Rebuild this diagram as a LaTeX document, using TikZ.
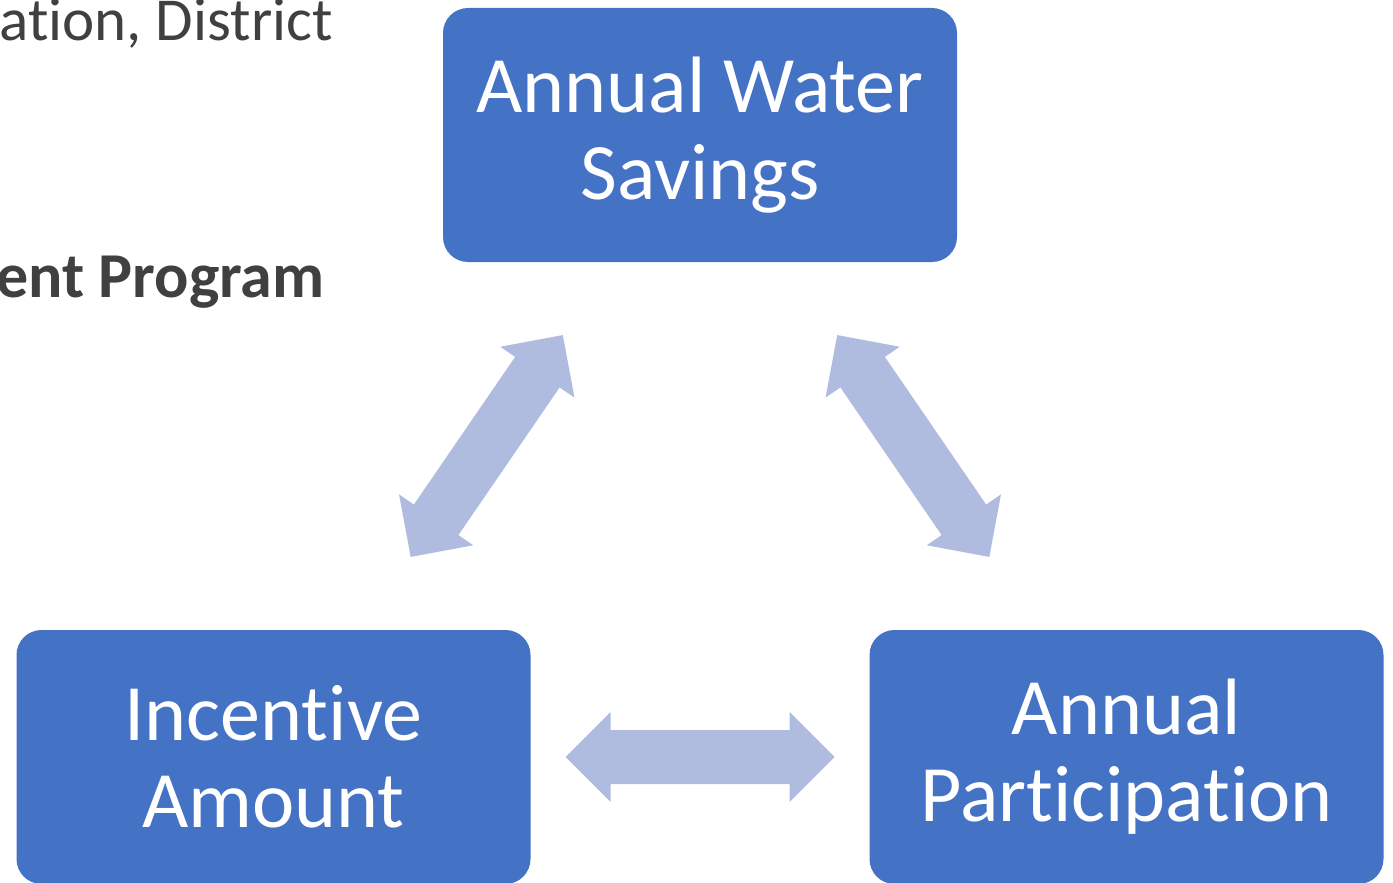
\documentclass[tikz,border=0pt]{standalone}
\usepackage{fontspec}
\setmainfont[Ligatures=NoCommon]{Carlito}
\usetikzlibrary{calc}
\definecolor{boxblue}{HTML}{4472C4}
\definecolor{arrowblue}{HTML}{AFBCDF}
\definecolor{headgray}{HTML}{404040}
\tikzset{
  box/.style={fill=boxblue, rounded corners=12.5pt, minimum width=257pt, minimum height=127pt,
    text=white, align=center, inner sep=0pt, font=\fontsize{40}{43.5}\selectfont},
  heading/.style={text=headgray, anchor=base east, inner sep=0pt, font=\fontsize{30.5}{36}\selectfont},
  pics/dblarrow/.style={code={
    \fill[arrowblue] (-134.5,0) -- (-89.5,-45) -- (-89.5,-27) -- (89.5,-27) -- (89.5,-45) -- (134.5,0)
      -- (89.5,45) -- (89.5,27) -- (-89.5,27) -- (-89.5,45) -- cycle;
  }}
}

\begin{document}
\begin{tikzpicture}[x=0.5pt,y=-0.5pt]
\useasboundingbox (0,0) rectangle (1393,883);

% heading (cut off at the left)
\node[heading] (district) at (333,41) {ation, District};
\node[heading, font=\fontsize{32}{36}\selectfont\bfseries] (program) at (325,297) {ent Program};

% boxes
\node[box] (savings) at (700,135) {Annual Water\\Savings};
\node[box] (incentive) at (273.5,757) {Incentive\\Amount};
\node[box] (participation) at (1126.5,757) {Annual\\Participation};

% arrows
\foreach \a/\b in {savings/incentive, savings/participation, incentive/participation}
  \path let \p1=($(\a.center)-(\b.center)$), \n1={atan2(\y1,\x1)} in
    pic[rotate=\n1] at ($(\a.center)!.5!(\b.center)$) {dblarrow};

\end{tikzpicture}
\end{document}
